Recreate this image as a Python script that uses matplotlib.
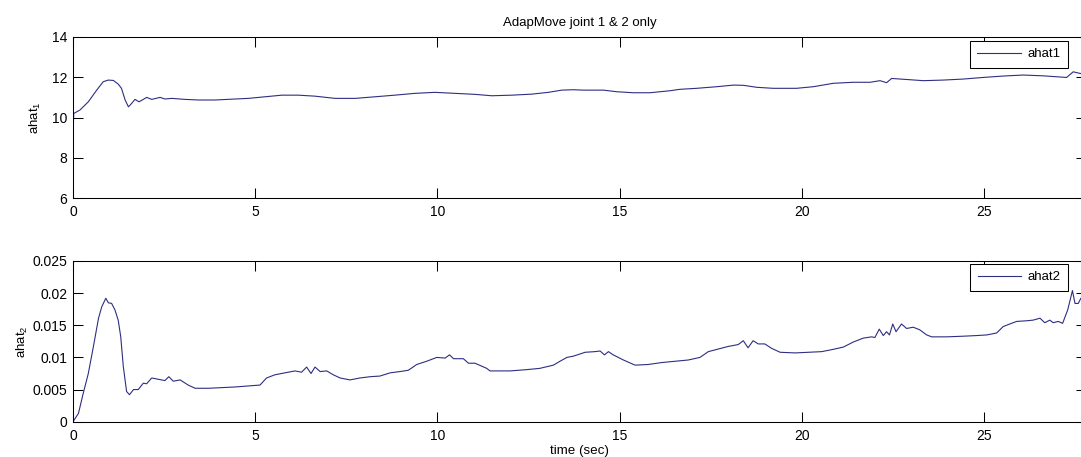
import numpy as np
import matplotlib
matplotlib.use('Agg')
import matplotlib.pyplot as plt

# values
t1 = [0.0, 0.02, 0.19, 0.42, 0.65, 0.83, 0.97, 1.11, 1.24, 1.33, 1.43, 1.52, 1.61, 1.70,
      1.81, 1.93, 2.02, 2.16, 2.39, 2.52, 2.71, 3.07, 3.44, 3.90, 4.35, 4.81, 5.27, 5.73,
      6.18, 6.64, 7.19, 7.74, 8.29, 8.83, 9.38, 9.93, 10.48, 11.03, 11.49, 12.04, 12.58,
      13.04, 13.41, 13.73, 14.00, 14.55, 14.92, 15.37, 15.83, 16.38, 16.65, 17.11, 17.66,
      18.12, 18.39, 18.76, 19.21, 19.85, 20.31, 20.86, 21.41, 21.87, 22.14, 22.32, 22.46,
      22.78, 23.33, 23.88, 24.42, 24.97, 25.52, 26.07, 26.62, 27.26, 27.44, 27.63, 27.8]
ahat1 = [9.0, 10.2, 10.37, 10.78, 11.36, 11.78, 11.86, 11.84, 11.66, 11.45, 10.87, 10.53,
         10.70, 10.90, 10.78, 10.90, 11.00, 10.90, 11.00, 10.92, 10.95, 10.90, 10.87, 10.87,
         10.91, 10.95, 11.03, 11.11, 11.11, 11.06, 10.95, 10.95, 11.03, 11.11, 11.20, 11.25,
         11.20, 11.15, 11.08, 11.11, 11.16, 11.25, 11.36, 11.38, 11.36, 11.36, 11.28, 11.23,
         11.23, 11.33, 11.40, 11.45, 11.53, 11.61, 11.60, 11.50, 11.45, 11.45, 11.53, 11.70,
         11.75, 11.75, 11.83, 11.73, 11.94, 11.90, 11.83, 11.86, 11.91, 11.99, 12.06, 12.11,
         12.07, 11.99, 12.27, 12.19, 12.15]

t2 = [0.0, 0.15, 0.28, 0.42, 0.56, 0.70, 0.79, 0.90, 0.97, 1.06, 1.15, 1.24, 1.31, 1.38,
      1.47, 1.55, 1.66, 1.79, 1.93, 2.02, 2.16, 2.34, 2.52, 2.63, 2.75, 2.94, 3.16, 3.35,
      3.71, 4.08, 4.44, 4.90, 5.13, 5.31, 5.54, 5.82, 6.09, 6.27, 6.41, 6.53, 6.64, 6.78,
      6.96, 7.14, 7.33, 7.60, 7.87, 8.15, 8.42, 8.70, 8.97, 9.20, 9.43, 9.70, 9.98, 10.21,
      10.33, 10.44, 10.71, 10.85, 11.03, 11.35, 11.44, 11.99, 12.45, 12.81, 13.18, 13.36,
      13.55, 13.73, 14.05, 14.32, 14.46, 14.58, 14.69, 14.82, 15.10, 15.42, 15.78, 16.15,
      16.52, 16.88, 17.20, 17.43, 17.70, 17.97, 18.25, 18.39, 18.52, 18.66, 18.80, 18.98,
      19.17, 19.40, 19.81, 20.17, 20.54, 20.81, 21.13, 21.41, 21.68, 21.91, 22.00, 22.12,
      22.23, 22.32, 22.40, 22.49, 22.58, 22.73, 22.87, 23.05, 23.23, 23.42, 23.56, 23.97,
      24.42, 24.79, 25.07, 25.34, 25.52, 25.70, 25.89, 26.16, 26.34, 26.53, 26.66, 26.80,
      26.89, 27.03, 27.15, 27.29, 27.42, 27.49, 27.58, 27.65, 27.8]
ahat2 = [0.0, 0.0013, 0.0044, 0.0075, 0.0117, 0.0161, 0.0179, 0.0192, 0.0185, 0.0184,
         0.0174, 0.0158, 0.0132, 0.0086, 0.0047, 0.0042, 0.0050, 0.0050, 0.0060, 0.0059,
         0.0068, 0.0066, 0.0064, 0.0070, 0.0063, 0.0065, 0.0057, 0.0052, 0.0052, 0.0053,
         0.0054, 0.0056, 0.0057, 0.0068, 0.0073, 0.0076, 0.0079, 0.0077, 0.0085, 0.0075,
         0.0085, 0.0078, 0.0079, 0.0073, 0.0068, 0.0065, 0.0068, 0.0070, 0.0071, 0.0076,
         0.0078, 0.0080, 0.0089, 0.0094, 0.0100, 0.0099, 0.0104, 0.0098, 0.0098, 0.0091,
         0.0091, 0.0083, 0.0079, 0.0079, 0.0081, 0.0083, 0.0088, 0.0094, 0.0100, 0.0102,
         0.0108, 0.0109, 0.0110, 0.0104, 0.0109, 0.0104, 0.0096, 0.0088, 0.0089, 0.0092,
         0.0094, 0.0096, 0.0100, 0.0109, 0.0113, 0.0117, 0.0120, 0.0126, 0.0115, 0.0126,
         0.0121, 0.0121, 0.0114, 0.0108, 0.0107, 0.0108, 0.0109, 0.0112, 0.0116, 0.0124,
         0.0130, 0.0132, 0.0131, 0.0144, 0.0134, 0.0140, 0.0135, 0.0152, 0.0140, 0.0152,
         0.0145, 0.0147, 0.0143, 0.0135, 0.0132, 0.0132, 0.0133, 0.0134, 0.0135, 0.0138,
         0.0148, 0.0152, 0.0156, 0.0157, 0.0158, 0.0161, 0.0154, 0.0158, 0.0154, 0.0156,
         0.0153, 0.0174, 0.0204, 0.0184, 0.0184, 0.0192, 0.0188]

xticks = [0, 5, 10, 15, 20, 25]
yticks1 = [6, 8, 10, 12, 14]
yticks2 = [0, 0.005, 0.01, 0.015, 0.02, 0.025]
ytick2_labels = ['0', '0.005', '0.01', '0.015', '0.02', '0.025']

plt.rcParams['font.family'] = ['Liberation Sans', 'DejaVu Sans']
plt.rcParams['mathtext.fontset'] = 'custom'
plt.rcParams['mathtext.rm'] = 'Liberation Sans'
plt.rcParams['mathtext.it'] = 'Liberation Sans'

W, H = 1081, 457
fig = plt.figure(figsize=(W/100, H/100), dpi=100)
line_col = '#2e2e82'
x_right = 1086.3

def fx(px): return px / W
def fy(py): return 1 - py / H

ax1 = fig.add_axes([fx(73), fy(198), fx(x_right - 73), (198 - 37) / H])
ax2 = fig.add_axes([fx(73), fy(421.7), fx(x_right - 73), (421.7 - 261) / H])

for ax in (ax1, ax2):
    ax.set_xlim(0, 27.8)
    ax.set_xticks(xticks)
    ax.tick_params(direction='in', length=7.2, width=0.75, top=True, right=True,
                   labelsize=10, pad=4)
    ax.tick_params(axis='x', pad=5)
    for s in ax.spines.values():
        s.set_linewidth(0.75)

ax1.plot(t1, ahat1, color=line_col, lw=0.8, label='ahat1')
ax1.set_ylim(6, 14)
ax1.set_yticks(yticks1)
ax1.set_ylabel('ahat$_1$', fontsize=9.5)
ax1.yaxis.set_label_coords((43 - 73) / (x_right - 73), 0.5)
ax1.set_title('AdapMove joint 1 & 2 only', fontsize=9.5, pad=8)

ax2.plot(t2, ahat2, color=line_col, lw=0.8, label='ahat2')
ax2.set_ylim(0, 0.025)
ax2.set_yticks(yticks2)
ax2.set_yticklabels(ytick2_labels)
ax2.set_ylabel('ahat$_2$', fontsize=9.5)
ax2.yaxis.set_label_coords((30 - 73) / (x_right - 73), 0.5)
ax2.set_xlabel('time (sec)', fontsize=9.6, labelpad=1.5)

for ax, top in ((ax1, 41), (ax2, 264)):
    leg = ax.legend(loc='upper right', bbox_to_anchor=(fx(1068), fy(top)),
                    bbox_transform=fig.transFigure, borderaxespad=0, fancybox=False,
                    framealpha=1, edgecolor='black', fontsize=9.5, handlelength=3.3,
                    handletextpad=0.5, borderpad=0.55)
    leg.get_frame().set_linewidth(0.75)

fig.savefig('out.png', dpi=100)
